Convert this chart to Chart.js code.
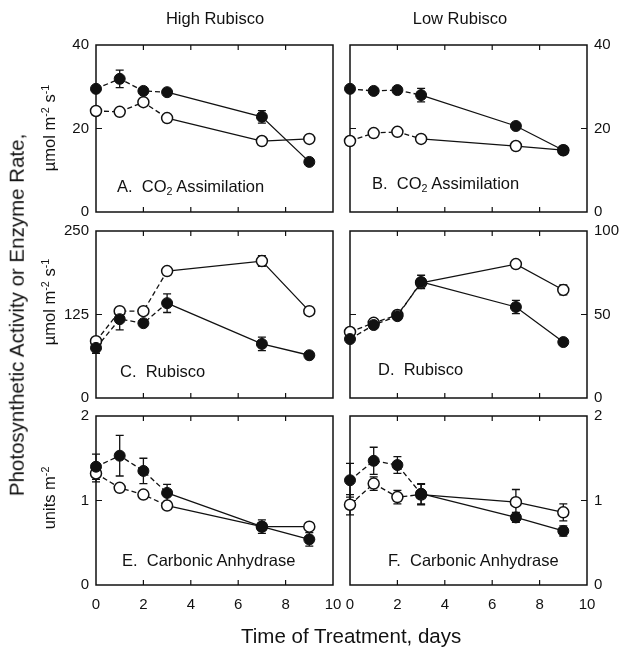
<!DOCTYPE html>
<html>
<head>
<meta charset="utf-8">
<script src="https://cdn.jsdelivr.net/npm/chart.js@4"></script>
<style>
  body { margin: 0; background: #fff; }
  #wrap { position: relative; width: 624px; height: 650px; font-family: "Liberation Sans", Arial, sans-serif; color: #111; }
  #wrap canvas { position: absolute; left: 0; top: 0; }
  .t { position: absolute; white-space: nowrap; line-height: 1; }
  .rot { transform: translate(-50%, -50%) rotate(-90deg); }
  .painel { font-size: 16.5px; }
  sup { font-size: 65%; vertical-align: 0.55em; line-height: 0; }
  sub { font-size: 65%; vertical-align: -0.3em; line-height: 0; }
</style>
</head>
<body>
<div id="wrap">
  <canvas id="gA" width="624" height="650"></canvas>
  <canvas id="gB" width="624" height="650"></canvas>
  <canvas id="gC" width="624" height="650"></canvas>
  <canvas id="gD" width="624" height="650"></canvas>
  <canvas id="gE" width="624" height="650"></canvas>
  <canvas id="gF" width="624" height="650"></canvas>

  <div class="t" style="left:215px;top:10px;font-size:16.5px;transform:translateX(-50%)">High Rubisco</div>
  <div class="t" style="left:460px;top:10px;font-size:16.5px;transform:translateX(-50%)">Low Rubisco</div>
  <div class="t" style="left:241px;top:626px;font-size:20.5px">Time of Treatment, days</div>
  <div class="t rot" style="left:17px;top:315px;font-size:20.5px">Photosynthetic Activity or Enzyme Rate,</div>
  <div class="t rot" style="left:49px;top:128px;font-size:16.5px">&micro;mol m<sup>-2</sup> s<sup>-1</sup></div>
  <div class="t rot" style="left:49px;top:302px;font-size:16.5px">&micro;mol m<sup>-2</sup> s<sup>-1</sup></div>
  <div class="t rot" style="left:49px;top:498px;font-size:16.5px">units m<sup>-2</sup></div>

  <div class="t painel" style="left:117px;top:178px">A.&nbsp; CO<sub>2</sub> Assimilation</div>
  <div class="t painel" style="left:372px;top:175px">B.&nbsp; CO<sub>2</sub> Assimilation</div>
  <div class="t painel" style="left:120px;top:363px">C.&nbsp; Rubisco</div>
  <div class="t painel" style="left:378px;top:361px">D.&nbsp; Rubisco</div>
  <div class="t painel" style="left:122px;top:552px">E.&nbsp; Carbonic Anhydrase</div>
  <div class="t painel" style="left:388px;top:552px">F.&nbsp; Carbonic Anhydrase</div>
</div>
<script>
// dias de tratamento (eixo x)
var DIAS = [0, 1, 2, 3, 7, 9];
var X_TICKS = [0, 2, 4, 6, 8, 10];
var Y_TICKS_CO2 = [0, 20, 40];
var Y_TICKS_RUB_ALTO = [0, 125, 250];
var Y_TICKS_RUB_BAIXO = [0, 50, 100];
var Y_TICKS_CA = [0, 1, 2];

// A. CO2 assimilation, High Rubisco
var A_CHEIO = [29.5, 31.9, 29.0, 28.7, 22.8, 12.0];
var A_CHEIO_ERR = [0, 2.1, 0, 0, 1.5, 0];
var A_ABERTO = [24.2, 24.0, 26.3, 22.5, 17.0, 17.5];
var A_ABERTO_ERR = [0, 0, 0, 0, 0, 0];
// B. CO2 assimilation, Low Rubisco
var B_CHEIO = [29.5, 29.0, 29.2, 28.0, 20.6, 14.8];
var B_CHEIO_ERR = [0, 0, 0, 1.6, 0, 0];
var B_ABERTO = [17.0, 18.9, 19.2, 17.5, 15.8, 14.8];
var B_ABERTO_ERR = [1.0, 0, 0, 0, 0, 0];
// C. Rubisco, High Rubisco
var C_CHEIO = [75, 118, 112, 142, 81, 64];
var C_CHEIO_ERR = [8, 16, 0, 14, 10, 0];
var C_ABERTO = [85, 130, 130, 190, 205, 130];
var C_ABERTO_ERR = [0, 0, 0, 0, 8, 0];
// D. Rubisco, Low Rubisco
var D_CHEIO = [35.3, 43.7, 49.0, 69.5, 54.5, 33.5];
var D_CHEIO_ERR = [0, 2, 2, 4, 4, 0];
var D_ABERTO = [39.5, 45.0, 49.7, 68.9, 80.2, 64.7];
var D_ABERTO_ERR = [0, 2, 2, 2, 0, 3];
// E. Carbonic anhydrase, High Rubisco
var E_CHEIO = [1.40, 1.53, 1.35, 1.09, 0.69, 0.54];
var E_CHEIO_ERR = [0.15, 0.24, 0.15, 0.10, 0.08, 0.08];
var E_ABERTO = [1.32, 1.15, 1.07, 0.94, 0.69, 0.69];
var E_ABERTO_ERR = [0.10, 0, 0, 0, 0, 0];
// F. Carbonic anhydrase, Low Rubisco
var F_CHEIO = [1.24, 1.47, 1.42, 1.08, 0.80, 0.64];
var F_CHEIO_ERR = [0.20, 0.16, 0.10, 0.12, 0.06, 0.06];
var F_ABERTO = [0.95, 1.20, 1.04, 1.07, 0.98, 0.86];
var F_ABERTO_ERR = [0.12, 0.08, 0.08, 0.12, 0.15, 0.10];

var FONTE = "'Liberation Sans', Arial, sans-serif";
var PRETO = "#111";

// caixa do painel + marcas para dentro
var moldura = {
  id: "moldura",
  beforeDatasetsDraw: function (chart) {
    var a = chart.chartArea, ctx = chart.ctx;
    var sx = chart.scales.x, sy = chart.scales.y;
    var op = chart.options.plugins.moldura;
    ctx.save();
    ctx.strokeStyle = PRETO;
    ctx.lineWidth = 1.5;
    ctx.strokeRect(a.left, a.top, a.right - a.left, a.bottom - a.top);
    ctx.lineWidth = 1.2;
    ctx.beginPath();
    X_TICKS.slice(1, -1).forEach(function (v) {
      var x = sx.getPixelForValue(v);
      ctx.moveTo(x, a.top); ctx.lineTo(x, a.top + 5);
      ctx.moveTo(x, a.bottom); ctx.lineTo(x, a.bottom - 5);
    });
    var y = sy.getPixelForValue(op.meio);
    ctx.moveTo(a.left, y); ctx.lineTo(a.left + 6, y);
    if (op.direita) { ctx.moveTo(a.right, y); ctx.lineTo(a.right - 6, y); }
    ctx.stroke();
    ctx.restore();
  }
};

// barras de erro verticais com tampas
var barrasErro = {
  id: "barrasErro",
  beforeDatasetsDraw: function (chart) {
    var ctx = chart.ctx, sx = chart.scales.x, sy = chart.scales.y;
    ctx.save();
    ctx.strokeStyle = PRETO;
    ctx.lineWidth = 1.3;
    chart.data.datasets.forEach(function (ds) {
      ds.erros.forEach(function (e, i) {
        if (!e) { return; }
        var v = ds.data[i].y;
        var x = sx.getPixelForValue(DIAS[i]);
        var y1 = sy.getPixelForValue(v + e), y2 = sy.getPixelForValue(v - e);
        ctx.beginPath();
        ctx.moveTo(x, y1); ctx.lineTo(x, y2);
        ctx.moveTo(x - 4, y1); ctx.lineTo(x + 4, y1);
        ctx.moveTo(x - 4, y2); ctx.lineTo(x + 4, y2);
        ctx.stroke();
      });
    });
    ctx.restore();
  }
};

function serie(valores, erros, cheio) {
  return {
    data: DIAS.map(function (d, i) { return { x: d, y: valores[i] }; }),
    erros: erros,
    clip: false,
    borderColor: PRETO,
    borderWidth: 1.3,
    pointRadius: 5.5,
    pointBackgroundColor: cheio ? PRETO : "#fff",
    pointBorderColor: PRETO,
    pointBorderWidth: cheio ? 1 : 1.5,
    segment: {
      borderDash: function (c) { return c.p1DataIndex <= 3 ? [5, 3] : undefined; }
    }
  };
}

function criarPainel(id, p) {
  var direita = p.lado === "right";
  var base = p.caixa[3] >= 585;
  new Chart(document.getElementById(id), {
    type: "line",
    data: { datasets: [serie(p.cheio, p.cheioErr, true), serie(p.aberto, p.abertoErr, false)] },
    options: {
      responsive: false,
      animation: false,
      layout: {
        autoPadding: false,
        padding: {
          left: direita ? p.caixa[0] : p.caixa[0] - 34,
          right: direita ? 624 - p.caixa[2] - 34 : 624 - p.caixa[2],
          top: p.caixa[1],
          bottom: base ? 0 : 650 - p.caixa[3]
        }
      },
      plugins: {
        legend: { display: false },
        tooltip: { enabled: false },
        moldura: { meio: p.yTicks[1], direita: direita }
      },
      scales: {
        x: {
          type: "linear", min: 0, max: 10,
          display: base,
          grid: { display: false, drawTicks: false },
          border: { display: false },
          afterBuildTicks: function (s) { s.ticks = X_TICKS.map(function (v) { return { value: v }; }); },
          afterFit: function (s) { s.height = base ? 650 - p.caixa[3] : 0; },
          ticks: { color: PRETO, font: { family: FONTE, size: 15 }, padding: 11, maxRotation: 0 }
        },
        y: {
          type: "linear", min: 0, max: p.yTicks[2],
          position: p.lado,
          grid: { display: false, drawTicks: false },
          border: { display: false },
          afterBuildTicks: function (s) { s.ticks = p.yTicks.map(function (v) { return { value: v }; }); },
          afterFit: function (s) { s.width = 34; },
          ticks: { color: PRETO, font: { family: FONTE, size: 15 }, padding: 7 }
        }
      }
    },
    plugins: [barrasErro, moldura]
  });
}

criarPainel("gA", { caixa: [96, 45, 333, 212], lado: "left", yTicks: Y_TICKS_CO2,
  cheio: A_CHEIO, cheioErr: A_CHEIO_ERR, aberto: A_ABERTO, abertoErr: A_ABERTO_ERR });
criarPainel("gB", { caixa: [350, 45, 587, 212], lado: "right", yTicks: Y_TICKS_CO2,
  cheio: B_CHEIO, cheioErr: B_CHEIO_ERR, aberto: B_ABERTO, abertoErr: B_ABERTO_ERR });
criarPainel("gC", { caixa: [96, 231, 333, 398], lado: "left", yTicks: Y_TICKS_RUB_ALTO,
  cheio: C_CHEIO, cheioErr: C_CHEIO_ERR, aberto: C_ABERTO, abertoErr: C_ABERTO_ERR });
criarPainel("gD", { caixa: [350, 231, 587, 398], lado: "right", yTicks: Y_TICKS_RUB_BAIXO,
  cheio: D_CHEIO, cheioErr: D_CHEIO_ERR, aberto: D_ABERTO, abertoErr: D_ABERTO_ERR });
criarPainel("gE", { caixa: [96, 416, 333, 585], lado: "left", yTicks: Y_TICKS_CA,
  cheio: E_CHEIO, cheioErr: E_CHEIO_ERR, aberto: E_ABERTO, abertoErr: E_ABERTO_ERR });
criarPainel("gF", { caixa: [350, 416, 587, 585], lado: "right", yTicks: Y_TICKS_CA,
  cheio: F_CHEIO, cheioErr: F_CHEIO_ERR, aberto: F_ABERTO, abertoErr: F_ABERTO_ERR });
</script>
</body>
</html>
